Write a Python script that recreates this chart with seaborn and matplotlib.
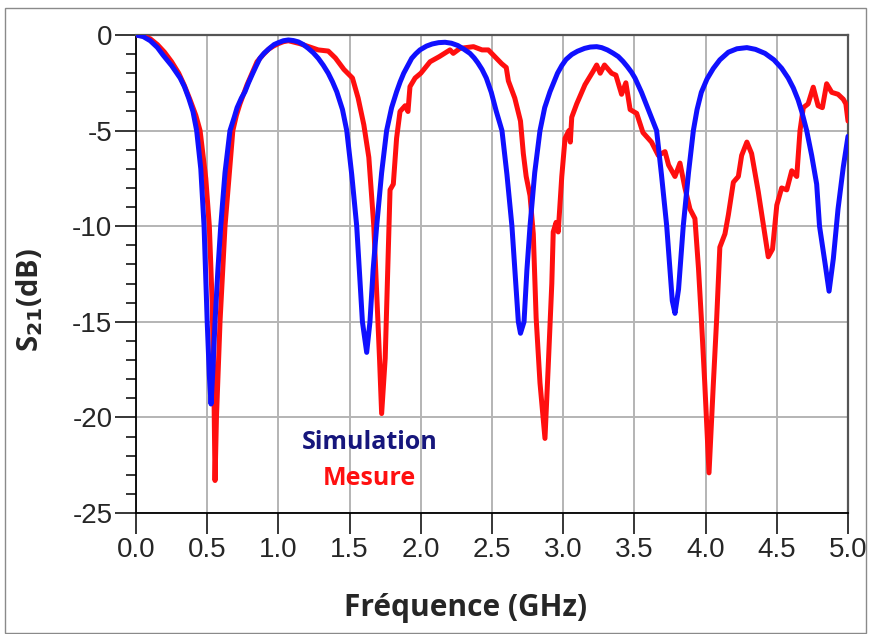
import numpy as np
import pandas as pd
import seaborn as sns
import matplotlib.pyplot as plt
from matplotlib.patches import Rectangle
from matplotlib.ticker import MultipleLocator

# Simulation (blue)
sim_freq = [0.00, 0.05, 0.10, 0.15, 0.19, 0.25, 0.31, 0.34, 0.37, 0.40, 0.426, 0.455,
            0.478, 0.50, 0.515, 0.527, 0.54, 0.555, 0.575, 0.595, 0.625, 0.66, 0.69,
            0.71, 0.74, 0.765, 0.79, 0.82, 0.845, 0.87, 0.90, 0.94, 0.97, 1.00, 1.035,
            1.07, 1.105, 1.14, 1.175, 1.21, 1.245, 1.28, 1.315, 1.35, 1.38, 1.41, 1.45,
            1.48, 1.515, 1.55, 1.59, 1.62, 1.643, 1.665, 1.69, 1.725, 1.76, 1.795, 1.83,
            1.855, 1.88, 1.91, 1.936, 1.965, 1.994, 2.04, 2.08, 2.125, 2.17, 2.215, 2.26,
            2.30, 2.345, 2.375, 2.40, 2.43, 2.46, 2.495, 2.53, 2.57, 2.605, 2.64, 2.685,
            2.70, 2.725, 2.745, 2.767, 2.80, 2.837, 2.87, 2.907, 2.935, 2.96, 2.99, 3.02,
            3.06, 3.10, 3.15, 3.19, 3.235, 3.27, 3.31, 3.35, 3.387, 3.42, 3.45, 3.48,
            3.504, 3.55, 3.598, 3.656, 3.69, 3.727, 3.766, 3.785, 3.81, 3.843, 3.88, 3.914,
            3.94, 3.97, 4.01, 4.054, 4.10, 4.16, 4.22, 4.29, 4.35, 4.417, 4.48, 4.534,
            4.58, 4.616, 4.65, 4.675, 4.71, 4.745, 4.78, 4.80, 4.84, 4.867, 4.897, 4.93,
            4.967, 5.00]
sim_s21 = [0.0, -0.08, -0.3, -0.65, -1.05, -1.6, -2.25, -2.7, -3.3, -4.0, -5.0, -7.0,
           -10.0, -15.0, -17.8, -19.3, -17.5, -15.0, -12.3, -10.0, -7.2, -5.0, -4.3,
           -3.8, -3.3, -2.97, -2.5, -2.0, -1.6, -1.22, -0.95, -0.68, -0.5, -0.4, -0.3,
           -0.26, -0.29, -0.36, -0.5, -0.7, -0.93, -1.22, -1.58, -2.0, -2.45, -2.97, -3.9,
           -5.0, -7.3, -10.0, -15.0, -16.6, -15.0, -12.3, -10.0, -7.2, -5.0, -3.8, -2.97,
           -2.45, -2.0, -1.58, -1.22, -0.98, -0.78, -0.58, -0.47, -0.4, -0.38, -0.43, -0.55,
           -0.73, -0.96, -1.2, -1.45, -1.8, -2.25, -3.0, -3.99, -5.0, -7.3, -10.0, -15.0,
           -15.6, -15.0, -12.3, -10.0, -7.2, -5.0, -3.8, -2.97, -2.45, -2.0, -1.6, -1.28,
           -1.02, -0.85, -0.7, -0.63, -0.61, -0.66, -0.78, -0.95, -1.13, -1.38, -1.65, -1.95,
           -2.25, -3.0, -3.9, -5.0, -7.3, -10.0, -13.9, -14.56, -13.3, -10.0, -7.2, -5.0,
           -3.9, -3.0, -2.3, -1.75, -1.3, -0.9, -0.72, -0.66, -0.75, -0.96, -1.3, -1.74,
           -2.25, -2.77, -3.4, -4.0, -5.0, -6.3, -7.8, -10.0, -12.0, -13.4, -11.7, -9.1,
           -6.9, -5.3]

# Measurement (red)
mes_freq = [0.00, 0.05, 0.10, 0.15, 0.20, 0.25, 0.30, 0.34, 0.38, 0.42, 0.45, 0.49,
            0.515, 0.535, 0.548, 0.555, 0.565, 0.59, 0.625, 0.68, 0.705, 0.73, 0.755,
            0.78, 0.815, 0.85, 0.89, 0.93, 0.965, 1.00, 1.035, 1.07, 1.15, 1.28, 1.35,
            1.40, 1.46, 1.52, 1.56, 1.60, 1.635, 1.67, 1.69, 1.71, 1.725, 1.75, 1.77,
            1.784, 1.807, 1.83, 1.854, 1.89, 1.91, 1.924, 1.96, 2.00, 2.065, 2.13, 2.205,
            2.228, 2.275, 2.37, 2.43, 2.474, 2.52, 2.568, 2.60, 2.615, 2.66, 2.70, 2.72,
            2.74, 2.767, 2.79, 2.81, 2.837, 2.872, 2.895, 2.92, 2.93, 2.95, 2.965, 2.99,
            3.013, 3.04, 3.05, 3.06, 3.095, 3.153, 3.21, 3.235, 3.26, 3.29, 3.34, 3.37,
            3.41, 3.44, 3.47, 3.516, 3.56, 3.62, 3.668, 3.715, 3.74, 3.785, 3.82, 3.855,
            3.89, 3.925, 3.95, 3.97, 3.994, 4.024, 4.054, 4.078, 4.10, 4.136, 4.16, 4.195,
            4.23, 4.253, 4.29, 4.323, 4.37, 4.405, 4.44, 4.47, 4.50, 4.534, 4.57, 4.605,
            4.64, 4.663, 4.686, 4.72, 4.756, 4.79, 4.82, 4.85, 4.886, 4.93, 4.967, 4.985,
            5.00]
mes_s21 = [0.0, -0.05, -0.2, -0.5, -0.9, -1.4, -2.0, -2.65, -3.4, -4.2, -5.0, -7.5,
           -10.0, -14.0, -19.0, -23.3, -20.0, -15.0, -10.0, -5.0, -4.2, -3.6, -3.1,
           -2.6, -2.0, -1.4, -1.05, -0.75, -0.58, -0.45, -0.35, -0.3, -0.45, -0.78, -0.84,
           -1.2, -1.8, -2.25, -3.3, -4.7, -6.4, -10.0, -13.4, -16.9, -19.8, -16.9, -11.8,
           -8.1, -7.8, -5.4, -4.0, -3.7, -4.0, -2.7, -2.25, -2.0, -1.4, -1.13, -0.78,
           -0.96, -0.7, -0.61, -0.78, -0.78, -1.13, -1.5, -1.7, -2.4, -3.3, -4.5, -6.2,
           -7.4, -8.4, -10.4, -14.8, -18.2, -21.1, -17.3, -13.0, -10.3, -9.8, -10.3, -7.4,
           -5.4, -5.0, -5.6, -4.3, -3.6, -2.6, -1.9, -1.57, -2.0, -1.57, -2.0, -2.1,
           -3.1, -2.5, -3.9, -4.1, -5.1, -5.6, -6.3, -6.1, -6.8, -7.4, -6.7, -8.0,
           -9.1, -9.6, -12.2, -14.8, -18.2, -22.9, -18.3, -14.8, -11.1, -10.4, -9.4, -7.7,
           -7.4, -6.3, -5.6, -6.2, -8.2, -9.9, -11.6, -11.2, -8.9, -8.0, -8.1, -7.1,
           -7.4, -5.0, -3.8, -3.6, -2.73, -3.7, -3.8, -2.55, -3.0, -3.1, -3.36, -3.6,
           -4.5]

sim = pd.DataFrame({"freq": sim_freq, "s21": sim_s21})
mes = pd.DataFrame({"freq": mes_freq, "s21": mes_s21})

sns.set_style("white")
plt.rcParams["font.family"] = ["Liberation Sans Narrow", "DejaVu Sans Condensed",
                               "Liberation Sans", "DejaVu Sans"]
plt.rcParams["mathtext.fontset"] = "dejavusans"
plt.rcParams["axes.unicode_minus"] = False

fig = plt.figure(figsize=(8.73, 6.34), dpi=100)
ax = fig.add_axes([136 / 873, 1 - 513 / 634, 712 / 873, 478 / 634])

sns.lineplot(data=mes, x="freq", y="s21", color="#ff0f0f", linewidth=3.6,
             estimator=None, sort=False, ax=ax, zorder=3)
sns.lineplot(data=sim, x="freq", y="s21", color="#1010ff", linewidth=3.6,
             estimator=None, sort=False, ax=ax, zorder=4)

ax.set_xlim(0, 5)
ax.set_ylim(-25, 0)
ax.yaxis.set_major_locator(MultipleLocator(5))
ax.yaxis.set_minor_locator(MultipleLocator(1))
xt = np.arange(0, 5.01, 0.5)
ax.set_xticks(xt)
ax.set_xticklabels([f"{v:.1f}" for v in xt])
ax.grid(True, which="major", color="#b4b4b4", linewidth=1.4)
ax.tick_params(axis="both", which="major", direction="out", length=15, width=1.1,
               color="black", labelsize=20, pad=2)
ax.tick_params(axis="y", which="minor", direction="out", length=7, width=1.1,
               color="black", left=True)
ax.tick_params(axis="x", which="major", bottom=True)
ax.tick_params(axis="y", which="major", left=True)

for side in ["left", "bottom"]:
    ax.spines[side].set_color("black")
    ax.spines[side].set_linewidth(1.3)
for side in ["top", "right"]:
    ax.spines[side].set_color("#555555")
    ax.spines[side].set_linewidth(1.6)

lab_font = ["Open Sans", "DejaVu Sans"]
ax.set_xlabel("Fréquence (GHz)", fontsize=21.5, fontweight="bold", family=lab_font)
ax.xaxis.set_label_coords(0.463, -0.168)
ax.set_ylabel(r"S$_{\mathbf{21}}$(dB)", fontsize=21, fontweight="bold", family=lab_font)
ax.yaxis.set_label_coords(-0.128, 0.446)

ax.text(1.64, -21.3, "Simulation", color="#16167c", fontsize=18, fontweight="bold",
        family=lab_font, ha="center", va="center")
ax.text(1.64, -23.2, "Mesure", color="#ff1010", fontsize=18, fontweight="bold",
        family=lab_font, ha="center", va="center")

fig.patches.append(Rectangle((5 / 873, 0.002), 861 / 873, 1 - 8 / 634 - 0.002,
                             transform=fig.transFigure, fill=False,
                             edgecolor="#8a8a8a", linewidth=1.0))

fig.savefig("out.png", dpi=100)
